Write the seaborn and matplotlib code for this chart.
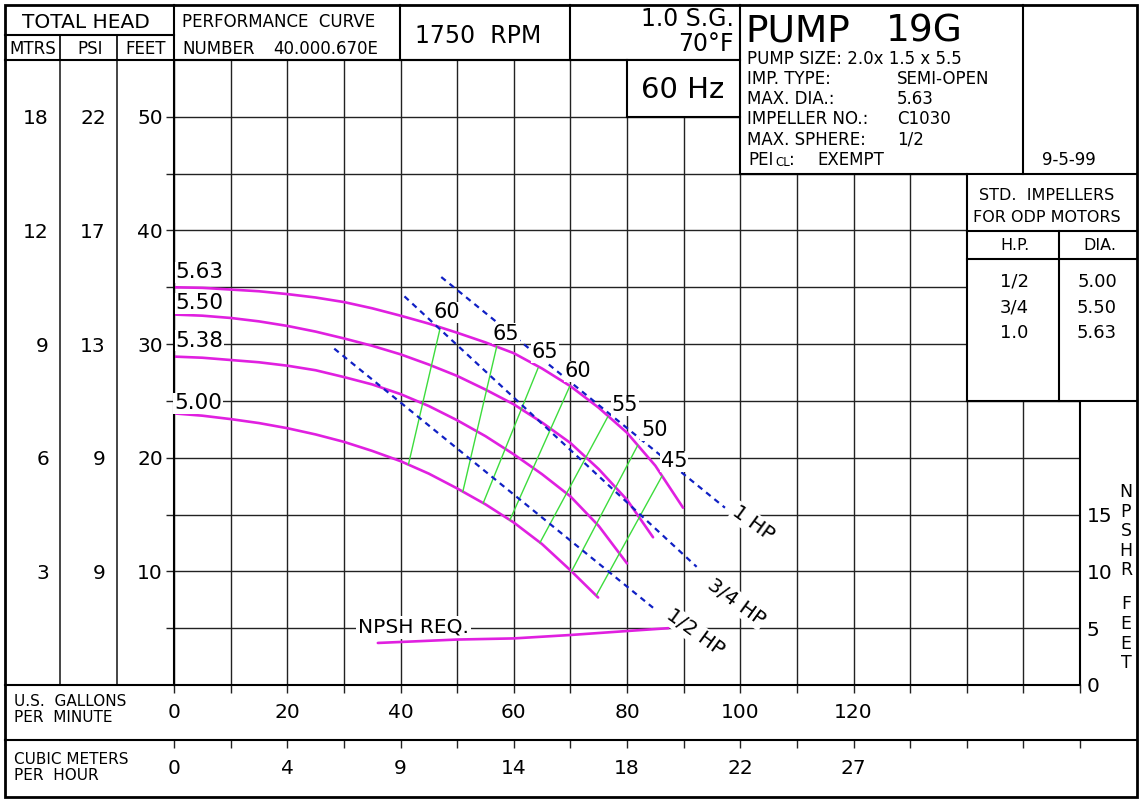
import matplotlib
matplotlib.use('Agg')
import matplotlib.pyplot as plt
import numpy as np
import pandas as pd
import seaborn as sns
from matplotlib.patches import Rectangle

sns.set_style('white')
plt.rcParams['font.family'] = ['DejaVu Sans']
plt.rcParams['text.color'] = 'black'
plt.rcParams['xtick.color'] = 'black'
plt.rcParams['ytick.color'] = 'black'
plt.rcParams['axes.labelcolor'] = 'black'

# Head-capacity curves (GPM vs feet) for each impeller diameter
q_563 = [0, 5, 10, 15, 20, 25, 30, 35, 40, 45, 50, 55, 60, 65, 70, 75, 80, 85, 89.9]
h_563 = [35.0, 34.95, 34.8, 34.65, 34.4, 34.1, 33.7, 33.15, 32.5, 31.8, 31.0, 30.15,
         29.2, 27.85, 26.3, 24.4, 22.2, 19.3, 15.6]
q_550 = [0, 5, 10, 15, 20, 25, 30, 35, 40, 45, 50, 55, 60, 65, 70, 75, 80, 84.6]
h_550 = [32.6, 32.5, 32.3, 32.0, 31.6, 31.1, 30.5, 29.85, 29.1, 28.2, 27.2, 26.0,
         24.7, 23.1, 21.3, 19.0, 16.3, 13.0]
q_538 = [0, 5, 10, 15, 20, 25, 30, 35, 40, 45, 50, 55, 60, 65, 70, 75, 80]
h_538 = [28.9, 28.8, 28.6, 28.4, 28.1, 27.7, 27.1, 26.45, 25.6, 24.55, 23.3, 21.9,
         20.3, 18.55, 16.6, 14.0, 10.7]
q_500 = [0, 5, 10, 15, 20, 25, 30, 35, 40, 45, 50, 55, 60, 65, 70, 74.9]
h_500 = [23.9, 23.7, 23.4, 23.05, 22.6, 22.05, 21.4, 20.6, 19.7, 18.6, 17.3, 15.9,
         14.3, 12.4, 10.1, 7.7]
diameters = ['5.63', '5.50', '5.38', '5.00']

# Efficiency lines: top end (on 5.63) and bottom end (on 5.00)
eff_labels = ['60', '65', '65', '60', '55', '50', '45']
eff_q_top = [47.0, 57.0, 64.3, 69.9, 76.6, 81.9, 86.2]
eff_h_top = [31.4, 29.8, 27.9, 26.3, 23.6, 21.1, 18.4]
eff_q_bot = [41.4, 51.0, 54.6, 59.3, 64.6, 70.2, 74.6]
eff_h_bot = [19.4, 17.0, 16.0, 14.5, 12.5, 10.0, 7.9]

# Horsepower lines
hp_labels = ['1 HP', '3/4 HP', '1/2 HP']
hp_q_start = [47.2, 40.7, 28.3]
hp_h_start = [35.9, 34.2, 29.6]
hp_q_end = [97.3, 92.3, 84.6]
hp_h_end = [15.6, 10.4, 6.8]

# NPSH required
npsh_q = [36.0, 50, 60, 70, 80, 87.3]
npsh_h = [3.7, 4.0, 4.1, 4.4, 4.75, 5.0]

# Axis tick labels
feet_ticks = [10, 20, 30, 40, 50]
psi_labels = ['9', '9', '13', '17', '22']
mtrs_labels = ['3', '6', '9', '12', '18']
gpm_ticks = [0, 20, 40, 60, 80, 100, 120]
m3h_labels = ['0', '4', '9', '14', '18', '22', '27']
npsh_ticks = [0, 5, 10, 15]

MAG = '#e020e0'
GRN = '#3ddc3d'
BLU = '#1020c4'
W, H = 1140, 801
LW = 1.5


def px_rect(x0, y0, x1, y1):
    return [x0 / W, 1 - y1 / H, (x1 - x0) / W, (y1 - y0) / H]


fig = plt.figure(figsize=(W / 100, H / 100), dpi=100)
fig.patch.set_facecolor('white')

# main chart area
ax = fig.add_axes(px_rect(174, 60, 1080, 685))
ax.set_xlim(0, 160)
ax.set_ylim(0, 55)
ax.set_xticks(np.arange(0, 161, 10))
ax.set_yticks(feet_ticks)
ax.set_yticks(np.arange(5, 50, 10), minor=True)
ax.grid(which='both', color='#222222', lw=1.0)
ax.tick_params(axis='x', length=0, labelbottom=False)
ax.tick_params(axis='y', which='both', direction='out', length=6, width=1,
               labelsize=14.5, pad=2, left=True, color='#222222')
for s in ax.spines.values():
    s.set_linewidth(LW)
    s.set_color('black')

curves = pd.concat([
    pd.DataFrame({'gpm': q, 'head': h, 'dia': d})
    for q, h, d in zip([q_563, q_550, q_538, q_500],
                       [h_563, h_550, h_538, h_500], diameters)])
sns.lineplot(data=curves, x='gpm', y='head', units='dia', estimator=None,
             sort=False, color=MAG, lw=1.9, ax=ax)

eff = pd.DataFrame({
    'gpm': eff_q_top + eff_q_bot,
    'head': eff_h_top + eff_h_bot,
    'line': list(range(len(eff_labels))) * 2})
sns.lineplot(data=eff, x='gpm', y='head', units='line', estimator=None,
             sort=False, color=GRN, lw=1.0, ax=ax)

hp = pd.DataFrame({
    'gpm': hp_q_start + hp_q_end,
    'head': hp_h_start + hp_h_end,
    'line': hp_labels * 2})
sns.lineplot(data=hp, x='gpm', y='head', units='line', estimator=None,
             sort=False, color=BLU, lw=1.6, linestyle=(0, (2.6, 2.2)), ax=ax)

ax.set_xlabel('')
ax.set_ylabel('')

wbox = dict(facecolor='white', edgecolor='none', pad=0.5)
imp_label_pos = [(0.3, 36.3), (0.3, 33.6), (0.3, 30.3), (0.0, 24.8)]
for d, (x, y) in zip(diameters, imp_label_pos):
    ax.text(x, y, d, fontsize=15.5, ha='left', va='center', bbox=wbox)

eff_label_pos = [(48.2, 32.8), (58.6, 30.9), (65.5, 29.3), (71.3, 27.6),
                 (79.6, 24.6), (84.8, 22.4), (88.3, 19.7)]
for t, (x, y) in zip(eff_labels, eff_label_pos):
    ax.text(x, y, t, fontsize=15, ha='center', va='center', bbox=wbox)

hp_label_pos = [(102.3, 14.2), (99.3, 7.3), (92.0, 4.6)]
for t, (x, y) in zip(hp_labels, hp_label_pos):
    ax.text(x, y, t, fontsize=14.5, ha='center', va='center', rotation=-36,
            rotation_mode='anchor', bbox=dict(facecolor='white', edgecolor='none', pad=1))

ax.text(32.5, 5.1, 'NPSH REQ.', fontsize=14.5, ha='left', va='center',
        bbox=dict(facecolor='white', edgecolor='none', pad=1.5))

# NPSH right scale
axr = ax.twinx()
axr.set_ylim(0, 55)
axr.set_yticks(npsh_ticks)
axr.tick_params(axis='y', length=0, labelsize=14.5, pad=5)
for s in axr.spines.values():
    s.set_visible(False)
sns.lineplot(x=npsh_q, y=npsh_h, color=MAG, lw=1.9, sort=False, ax=axr)
axr.set_ylabel('')

# PSI and MTRS columns
for x0, x1, labels in [(117, 174, psi_labels), (60, 117, mtrs_labels)]:
    a = fig.add_axes(px_rect(x0, 60, x1, 685))
    a.set_facecolor('none')
    a.set_ylim(0, 55)
    a.set_xticks([])
    a.set_yticks(feet_ticks)
    a.set_yticklabels(labels)
    a.set_yticks(np.arange(5, 50, 10), minor=True)
    a.tick_params(axis='y', which='both', direction='out', length=6, width=1,
                  labelsize=14.5, pad=2, color='#222222')
    for k, s in a.spines.items():
        s.set_visible(k == 'left')
    a.spines['left'].set_linewidth(1.2)

# flow rows (GPM and m3/h)
for y0, y1, labels in [(685, 740, [str(v) for v in gpm_ticks]), (740, 797, m3h_labels)]:
    a = fig.add_axes(px_rect(174, y0, 1080, y1))
    a.set_facecolor('none')
    a.set_xlim(0, 160)
    a.set_ylim(0, 1)
    a.set_yticks([])
    a.set_xticks(np.arange(0, 161, 10))
    a.xaxis.tick_top()
    a.tick_params(axis='x', direction='in', length=6, width=1, labeltop=False,
                  labelbottom=False, color='#222222')
    for s in a.spines.values():
        s.set_visible(False)
    for q, t in zip(gpm_ticks, labels):
        a.text(q, 0.5, t, fontsize=14.5, ha='center', va='center',
               transform=a.get_xaxis_transform())

# overlay for the title block and tables (pixel coordinates)
ov = fig.add_axes([0, 0, 1, 1], zorder=5)
ov.set_xlim(0, W)
ov.set_ylim(H, 0)
ov.axis('off')


def hline(y, x0, x1, lw=LW):
    ov.plot([x0, x1], [y, y], color='black', lw=lw, solid_capstyle='projecting')


def vline(x, y0, y1, lw=LW):
    ov.plot([x, x], [y0, y1], color='black', lw=lw, solid_capstyle='projecting')


def wrect(x0, y0, x1, y1):
    ov.add_patch(Rectangle((x0, y0), x1 - x0, y1 - y0, facecolor='white',
                           edgecolor='none'))


wrect(740, 5, 1137, 174)
wrect(627, 60, 740, 117)
wrect(967, 174, 1137, 401)

# outer frame
ov.add_patch(Rectangle((5, 5), 1132, 792, facecolor='none', edgecolor='black', lw=2))
hline(60, 5, 740)
hline(35, 5, 174)
vline(60, 35, 60, 1.2)
vline(117, 35, 60, 1.2)
vline(174, 5, 60)
vline(400, 5, 60)
vline(570, 5, 60)
vline(740, 5, 174)
vline(627, 60, 117)
hline(117, 627, 740)
vline(1023, 5, 174)
hline(174, 740, 1137)
vline(967, 174, 401)
hline(401, 967, 1137)
hline(231, 967, 1137)
hline(259, 967, 1137)
vline(1059, 231, 401)
hline(685, 5, 174)
hline(740, 5, 1137)

ov.text(86, 22, 'TOTAL HEAD', fontsize=14.5, ha='center', va='center')
ov.text(33, 49, 'MTRS', fontsize=12, ha='center', va='center')
ov.text(90, 49, 'PSI', fontsize=12, ha='center', va='center')
ov.text(146, 49, 'FEET', fontsize=12, ha='center', va='center')
ov.text(182, 22, 'PERFORMANCE  CURVE', fontsize=12, ha='left', va='center')
ov.text(182, 49, 'NUMBER', fontsize=12, ha='left', va='center')
ov.text(273, 49, '40.000.670E', fontsize=12, ha='left', va='center')
ov.text(478, 36, '1750  RPM', fontsize=17, ha='center', va='center')
ov.text(734, 19, '1.0 S.G.', fontsize=17, ha='right', va='center')
ov.text(734, 44, '70°F', fontsize=17, ha='right', va='center')
ov.text(683, 90, '60 Hz', fontsize=21, ha='center', va='center')

ov.text(745, 31, 'PUMP', fontsize=27, ha='left', va='center')
ov.text(886, 31, '19G', fontsize=27, ha='left', va='center')
ov.text(747, 59, 'PUMP SIZE: 2.0x 1.5 x 5.5', fontsize=12, ha='left', va='center')
info_rows = [('IMP. TYPE:', 'SEMI-OPEN', 79), ('MAX. DIA.:', '5.63', 99),
             ('IMPELLER NO.:', 'C1030', 119), ('MAX. SPHERE:', '1/2', 140)]
for lab, val, y in info_rows:
    ov.text(747, y, lab, fontsize=12, ha='left', va='center')
    ov.text(897, y, val, fontsize=12, ha='left', va='center')
ov.text(748, 160, 'PEI', fontsize=12, ha='left', va='center')
ov.text(775, 162, 'CL', fontsize=8.5, ha='left', va='center')
ov.text(789, 160, ':', fontsize=12, ha='left', va='center')
ov.text(817, 160, 'EXEMPT', fontsize=12, ha='left', va='center')
ov.text(1069, 160, '9-5-99', fontsize=12, ha='center', va='center')

ov.text(1047, 196, 'STD.  IMPELLERS', fontsize=11.5, ha='center', va='center')
ov.text(1047, 217, 'FOR ODP MOTORS', fontsize=11.5, ha='center', va='center')
ov.text(1015, 246, 'H.P.', fontsize=11.5, ha='center', va='center')
ov.text(1100, 246, 'DIA.', fontsize=11.5, ha='center', va='center')
std_hp = ['1/2', '3/4', '1.0']
std_dia = ['5.00', '5.50', '5.63']
for hpv, dv, y in zip(std_hp, std_dia, [282, 308, 333]):
    ov.text(1014, y, hpv, fontsize=13, ha='center', va='center')
    ov.text(1097, y, dv, fontsize=13, ha='center', va='center')

for ch, y in zip('NPSHRFEET', [492, 512, 531, 551, 570, 604, 624, 644, 663]):
    ov.text(1126, y, ch, fontsize=12.5, ha='center', va='center')

ov.text(14, 701, 'U.S.  GALLONS', fontsize=11, ha='left', va='center')
ov.text(14, 718, 'PER  MINUTE', fontsize=11, ha='left', va='center')
ov.text(14, 759, 'CUBIC METERS', fontsize=11, ha='left', va='center')
ov.text(14, 776, 'PER  HOUR', fontsize=11, ha='left', va='center')

fig.savefig('out.png', dpi=100)
